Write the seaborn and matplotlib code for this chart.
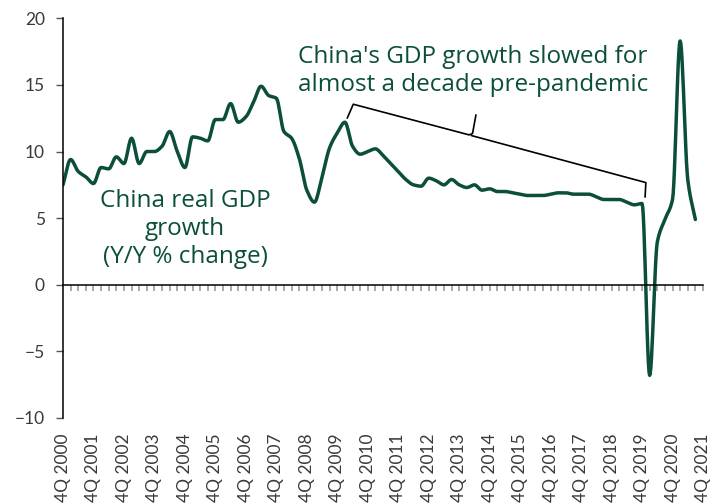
import numpy as np
import pandas as pd
import matplotlib
matplotlib.use("Agg")
import matplotlib.pyplot as plt
import seaborn as sns

# ---------------- data ----------------
years = list(range(2000, 2022))
tick_labels = [f"4Q {y}" for y in years]
gdp_growth = [
    7.5,                      # 4Q2000
    9.4, 8.5, 8.1, 7.6,       # 2001
    8.8, 8.7, 9.6, 9.1,       # 2002
    11.0, 9.1, 10.0, 10.0,    # 2003
    10.4, 11.5, 10.0, 8.8,    # 2004
    11.1, 11.0, 10.8, 12.4,   # 2005
    12.4, 13.6, 12.2, 12.6,   # 2006
    13.7, 14.9, 14.2, 14.0,   # 2007
    11.5, 11.0, 9.5, 7.1,     # 2008
    6.2, 8.1, 10.3, 11.4,     # 2009
    12.2, 10.4, 9.8, 10.0,    # 2010
    10.2, 9.7, 9.1, 8.5,      # 2011
    7.9, 7.5, 7.4, 8.0,       # 2012
    7.8, 7.5, 7.9, 7.5,       # 2013
    7.3, 7.5, 7.1, 7.2,       # 2014
    7.0, 7.0, 6.9, 6.8,       # 2015
    6.7, 6.7, 6.7, 6.8,       # 2016
    6.9, 6.9, 6.8, 6.8,       # 2017
    6.8, 6.6, 6.4, 6.4,       # 2018
    6.4, 6.2, 6.0, 6.1,       # 2019
    -6.8, 3.2, 4.9, 6.4,      # 2020
    18.3, 7.9, 4.9,           # 2021 (1Q-3Q)
]

label_main = "China real GDP\ngrowth\n(Y/Y % change)"
label_note = "China's GDP growth slowed for\nalmost a decade pre-pandemic"

GREEN = "#0b4e3b"

# ---------------- helpers ----------------
def monotone_curve(y, per=12):
    """Monotone cubic (Fritsch-Carlson) rendering of the series for a smooth line."""
    y = np.asarray(y, float)
    n = len(y)
    x = np.arange(n, dtype=float)
    d = np.diff(y)
    m = np.zeros(n)
    m[0], m[-1] = d[0], d[-1]
    for i in range(1, n - 1):
        if d[i - 1] * d[i] <= 0:
            m[i] = 0.0
        else:
            m[i] = 2.0 / (1.0 / d[i - 1] + 1.0 / d[i])
    xs, ys = [], []
    for i in range(n - 1):
        t = np.linspace(0, 1, per, endpoint=False)
        h00 = 2 * t**3 - 3 * t**2 + 1
        h10 = t**3 - 2 * t**2 + t
        h01 = -2 * t**3 + 3 * t**2
        h11 = t**3 - t**2
        xs.append(x[i] + t)
        ys.append(h00 * y[i] + h10 * m[i] + h01 * y[i + 1] + h11 * m[i + 1])
    xs.append([x[-1]])
    ys.append([y[-1]])
    return np.concatenate(xs), np.concatenate(ys)


# ---------------- figure ----------------
sns.set_style("white")
plt.rcParams["font.family"] = ["Lato", "DejaVu Sans"]

fig = plt.figure(figsize=(7.18, 5.04), dpi=100)
ax = fig.add_axes([63 / 718, 1 - 418 / 504, 640 / 718, (418 - 18.3) / 504])

xs, ys = monotone_curve(gdp_growth)
df = pd.DataFrame({"x": xs, "y": ys})
sns.lineplot(data=df, x="x", y="y", ax=ax, color=GREEN, lw=2.5,
             sort=False, estimator=None)
ax.lines[-1].set_solid_capstyle("round")
ax.lines[-1].set_solid_joinstyle("round")

n_q = 4 * (years[-1] - years[0])
ax.set_xlim(0, n_q)
ax.set_ylim(-10, 20)
ax.set_xlabel("")
ax.set_ylabel("")

for s in ("top", "right"):
    ax.spines[s].set_visible(False)
ax.spines["left"].set_color("black")
ax.spines["left"].set_linewidth(1.1)
ax.spines["bottom"].set_position(("data", 0))
ax.spines["bottom"].set_color("black")
ax.spines["bottom"].set_linewidth(1.1)

ax.set_yticks(np.arange(-10, 21, 5))
ax.tick_params(axis="y", length=5, width=1, color="#555555", labelsize=12.5,
               labelcolor="#3a3a3a", pad=8, left=True)
ax.set_xticks(np.arange(1, n_q + 1))
ax.set_xticklabels([])
ax.tick_params(axis="x", length=4, width=1.2, color="#9a9a9a",
               direction="out", bottom=True)

sec = ax.secondary_xaxis(0.0)
sec.set_xticks(np.arange(0, n_q + 1, 4))
sec.set_xticklabels(tick_labels, rotation=90, va="top", ha="center")
sec.tick_params(length=0, pad=11, labelsize=12.5, labelcolor="#3a3a3a")
sec.spines["bottom"].set_visible(False)

# annotations
ann_font = ["Open Sans", "DejaVu Sans"]
fig.text(185 / 718, 1 - 229 / 504, label_main, ha="center", va="center",
         multialignment="center", fontsize=17.5, color=GREEN, linespacing=1.2,
         family=ann_font)
fig.text(473 / 718, 1 - 71 / 504, label_note, ha="center", va="center",
         multialignment="center", fontsize=17.5, color=GREEN, linespacing=1.2,
         family=ann_font)

# bracket (in data coordinates)
ax.plot([37.3, 38.1, 53.3, 53.75, 54.2], [12.5, 13.55, 11.25, 11.35, 12.75],
        color="black", lw=1.2, solid_joinstyle="round")
ax.plot([53.6, 76.5, 76.4], [11.2, 7.67, 6.58], color="black", lw=1.2,
        solid_joinstyle="round")

fig.savefig("out.png", dpi=100)
